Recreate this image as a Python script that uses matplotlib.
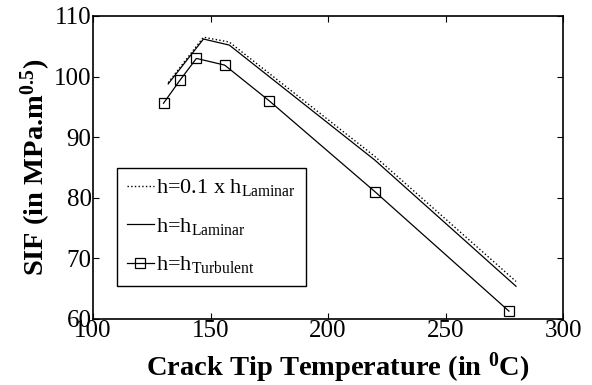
import numpy as np
import matplotlib
matplotlib.use('Agg')
import matplotlib.pyplot as plt

plt.rcParams['font.family'] = 'Liberation Serif'
plt.rcParams['mathtext.fontset'] = 'custom'
plt.rcParams['mathtext.rm'] = 'Liberation Serif'
plt.rcParams['mathtext.bf'] = 'Liberation Serif:bold'

# laminar runs
temp_lam = [132, 147, 158, 220, 280]
sif_lam_01 = [99.0, 106.5, 105.7, 86.8, 66.2]
sif_lam = [98.8, 106.2, 105.2, 86.2, 65.4]

# turbulent run
temp_turb = [130, 137, 144, 156, 175, 220, 277]
sif_turb = [95.6, 99.4, 103.0, 101.9, 96.0, 81.0, 61.3]

labels = [r'h=0.1 x h$_{\rm Laminar}$', r'h=h$_{\rm Laminar}$', r'h=h$_{\rm Turbulent}$']

fig = plt.figure(figsize=(5.92, 3.85), dpi=100)
ax = fig.add_axes([93 / 592, 1 - 319 / 385, 470 / 592, 303 / 385])

ax.plot(temp_lam, sif_lam_01, color='black', linestyle=':', linewidth=1.0, label=labels[0])
ax.plot(temp_lam, sif_lam, color='black', linestyle='-', linewidth=0.9, label=labels[1])
ax.plot(temp_turb, sif_turb, color='black', linestyle='-', linewidth=0.9, marker='s',
        markersize=7, markerfacecolor='none', markeredgewidth=0.9, label=labels[2])

ax.set_xlim(100, 300)
ax.set_ylim(60, 110)
ax.set_xticks(np.arange(100, 301, 50))
ax.set_yticks(np.arange(60, 111, 10))
ax.tick_params(direction='in', top=True, right=True, labelsize=18, length=4, pad=1)
for s in ax.spines.values():
    s.set_linewidth(1.2)

ax.set_xlabel(r'Crack Tip Temperature (in $\mathbf{^0}$C)', fontsize=20.5, fontweight='bold')
ax.xaxis.set_label_coords(0.52, -0.105, transform=ax.transAxes)
ax.xaxis.label.set_va('top')
ax.set_ylabel(r'SIF (in MPa.m$\mathbf{^{0.5}}$)', fontsize=20.5, fontweight='bold', labelpad=1)

leg = ax.legend(loc='lower left', bbox_to_anchor=(24 / 470, 33 / 303), fontsize=16,
                handlelength=1.2, handletextpad=0.1, borderpad=0.45, labelspacing=0.75,
                fancybox=False, framealpha=1, edgecolor='black', borderaxespad=0)
leg.get_frame().set_linewidth(1.0)

fig.savefig('out.png', dpi=100)
